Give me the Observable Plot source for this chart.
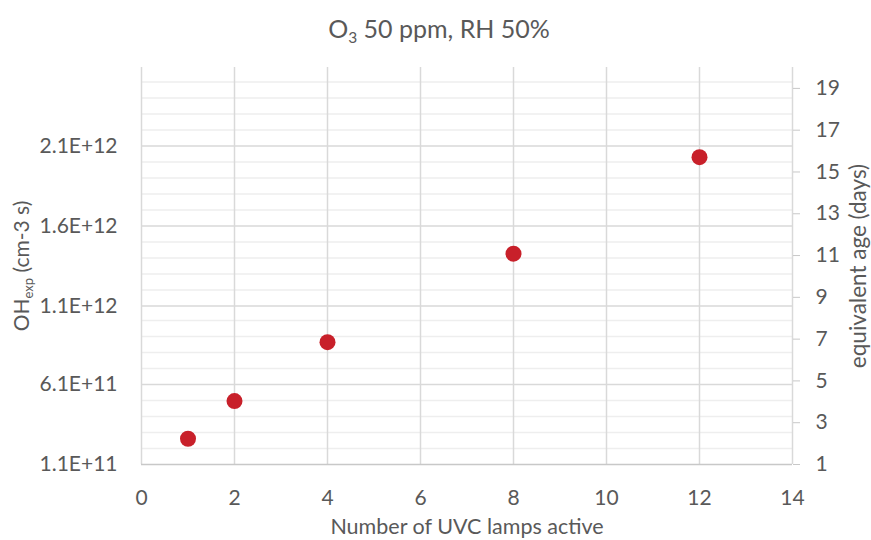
<!DOCTYPE html>
<html>
<head>
<meta charset="utf-8">
<script src="https://cdn.jsdelivr.net/npm/d3@7"></script>
<script src="https://cdn.jsdelivr.net/npm/@observablehq/plot@0.6"></script>
<style>
  body { margin: 0; background: #ffffff; }
  #chart svg { display: block; }
</style>
</head>
<body>
<div id="chart"></div>
<script>
// ---- data ----
const lamps = [1, 2, 4, 8, 12];
const ohExposure = [2.71e11, 5.06e11, 8.74e11, 1.427e12, 2.03e12];

const xTicks = [0, 2, 4, 6, 8, 10, 12, 14];
const leftTicks = [1.1e11, 6.1e11, 1.1e12, 1.6e12, 2.1e12];
const leftTickLabels = ["1.1E+11", "6.1E+11", "1.1E+12", "1.6E+12", "2.1E+12"];
const minorGrid = [2.1e11, 3.1e11, 4.1e11, 5.1e11, 7.1e11, 8.1e11, 9.1e11, 1.01e12,
                   1.2e12, 1.3e12, 1.4e12, 1.5e12, 1.7e12, 1.8e12, 1.9e12, 2.0e12,
                   2.2e12, 2.3e12, 2.4e12, 2.5e12];
const rightTicks = [1, 3, 5, 7, 9, 11, 13, 15, 17, 19];

const yMin = 1.1e11, yMax = 2.59e12;   // left axis range
const ageMin = 1, ageMax = 20;         // right axis range (days)

const titleText = "O3 50 ppm, RH 50%";
const yLabelText = "OHexp (cm-3 s)";
const y2LabelText = "equivalent age (days)";
const xLabelText = "Number of UVC lamps active";

// ---- helpers ----
const ageToY = d => yMin + (d - ageMin) / (ageMax - ageMin) * (yMax - yMin);
const yToAge = v => Math.round(ageMin + (v - yMin) / (yMax - yMin) * (ageMax - ageMin));
const points = lamps.map((x, i) => ({x, y: ohExposure[i]}));

const textColor = "#595959";
const font = "Lato, 'Open Sans', sans-serif";

const chart = Plot.plot({
  width: 871,
  height: 540,
  marginLeft: 141,
  marginRight: 79,
  marginTop: 67,
  marginBottom: 76,
  style: {fontFamily: font, fontSize: "21px", color: textColor, background: "#ffffff"},
  x: {domain: [0, 14]},
  y: {domain: [yMin, yMax]},
  marks: [
    Plot.ruleY(minorGrid, {stroke: "#eeeeee", strokeWidth: 1.5}),
    Plot.ruleY(leftTicks.slice(1), {stroke: "#d9d9d9", strokeWidth: 1.5}),
    Plot.ruleX(xTicks, {stroke: "#d9d9d9", strokeWidth: 1.5}),
    Plot.ruleY([yMin], {stroke: "#c8c8c8", strokeWidth: 1.5}),
    Plot.axisX(xTicks, {
      anchor: "bottom", tickSize: 0, tickPadding: 26, label: null,
      tickFormat: d => String(d), fontSize: 21
    }),
    Plot.axisY(leftTicks, {
      anchor: "left", tickSize: 0, tickPadding: 24, label: null,
      tickFormat: d => leftTickLabels[leftTicks.indexOf(d)], fontSize: 21
    }),
    Plot.axisY(rightTicks.map(ageToY), {
      anchor: "right", tickSize: 7, tickPadding: 16, label: null,
      stroke: "#c8c8c8", tickFormat: v => String(yToAge(v)), fontSize: 21
    }),
    Plot.dot(points, {x: "x", y: "y", r: 8, fill: "#c8202a", stroke: "none"}),
    Plot.text([titleText], {text: d => d, frameAnchor: "top", dy: -47, dx: -28,
      fontSize: 25, fill: textColor}),
    Plot.text([yLabelText], {text: d => d, frameAnchor: "left", textAnchor: "middle",
      dx: -119, rotate: -90, fontSize: 21, fill: textColor}),
    Plot.text([y2LabelText], {text: d => d, frameAnchor: "right", textAnchor: "middle",
      dx: 66, rotate: -90, fontSize: 22.5, fill: textColor}),
    Plot.text([xLabelText], {text: d => d, frameAnchor: "bottom", dy: 69,
      fontSize: 21.5, fill: textColor})
  ]
});

// subscripts
function subscriptify(svg, full, parts) {
  d3.select(svg).selectAll("text").filter(function () { return this.textContent === full; })
    .each(function () {
      const t = d3.select(this);
      t.text(null);
      parts.forEach(([s, sub]) => {
        if (sub) {
          t.append("tspan").attr("font-size", "0.62em").attr("dy", "0.3em").text(s);
        } else {
          t.append("tspan").attr("dy", sub === false ? "-0.19em" : null).text(s);
        }
      });
    });
}
subscriptify(chart, titleText, [["O", null], ["3", true], [" 50 ppm, RH 50%", false]]);
subscriptify(chart, yLabelText, [["OH", null], ["exp", true], [" (cm-3 s)", false]]);

document.getElementById("chart").appendChild(chart);
</script>
</body>
</html>
